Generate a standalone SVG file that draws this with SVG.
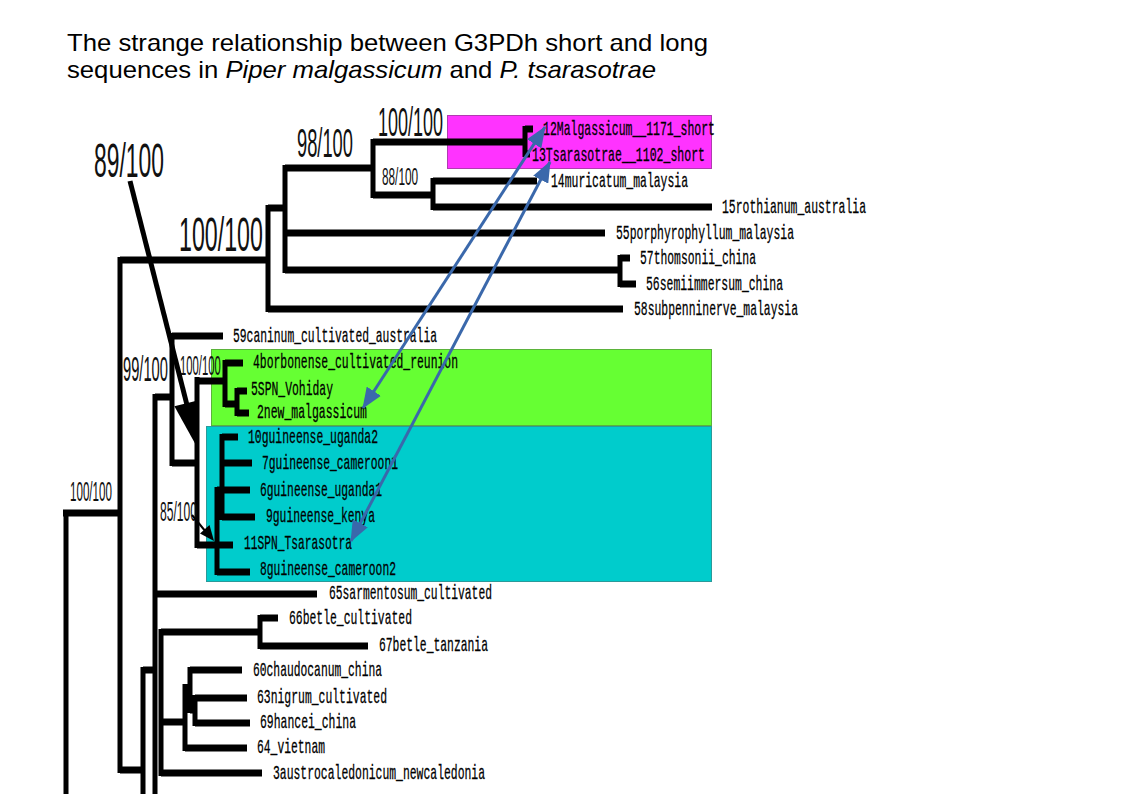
<svg xmlns="http://www.w3.org/2000/svg" width="1123" height="794" viewBox="0 0 1123 794">
<style>
.h{stroke:#000;stroke-width:7;fill:none}
.v{stroke:#000;stroke-width:5;fill:none}
.lf{font-family:"Liberation Mono",monospace;font-size:21px;fill:#000;stroke:#000;stroke-width:0.3}
.sp{font-family:"Liberation Sans",Arial,sans-serif;fill:#111}
.ttl{font-family:"Liberation Sans",Arial,sans-serif;font-size:24px;fill:#000}
.blue{stroke:#3a68ab;stroke-width:3;fill:none;marker-start:url(#ah);marker-end:url(#ah)}
</style>
<defs>
<marker id="ah" viewBox="0 0 21 17" refX="20" refY="8.5" markerWidth="21" markerHeight="17" markerUnits="userSpaceOnUse" orient="auto-start-reverse">
<path d="M0,0 L21,8.5 L0,17 z" fill="#3a68ab"/>
</marker>
</defs>
<rect width="1123" height="794" fill="#fff"/>
<g id="title">
<text class="ttl" x="67" y="51" textLength="641" lengthAdjust="spacingAndGlyphs">The strange relationship between G3PDh short and long</text>
<text class="ttl" x="67" y="78" textLength="589" lengthAdjust="spacingAndGlyphs">sequences in <tspan font-style="italic">Piper malgassicum</tspan> and <tspan font-style="italic">P. tsarasotrae</tspan></text>
</g>
<g id="boxes">
<rect id="box-pink" x="447.5" y="115.5" width="264" height="53" fill="#ff33ff" stroke="#b03cb0" stroke-width="1"/>
<rect id="box-green" x="211.5" y="349.5" width="500" height="76" fill="#66ff33" stroke="#5bb33a" stroke-width="1"/>
<rect id="box-cyan" x="206.5" y="426.5" width="505" height="155" fill="#00cccc" stroke="#2a9a9a" stroke-width="1"/>
</g>
<g id="tree">
<path class="v" d="M66,510V794 M120,257V773 M143,667V794 M155,394V794 M161,629V776 M172,333V466 M197,377V548 M225,360V407 M237,388V416 M222,434V520 M217,487V575 M268,205V312 M285,165V273 M373,139V198 M433,178V210 M525,126V157 M620,255V287 M260,615V649 M185,684V751 M190,667V713 M195,695V726"/>
<path class="h" d="M63,513H120 M120,260H268 M268,208H285 M285,168H373 M373,142H525 M525,129H533 M525,154H530 M373,195H433 M433,181H537 M433,207H712 M285,233H605 M285,270H620 M620,258H630 M620,284H636 M268,309H623 M155,397H172 M172,336H223 M172,463H197 M197,381H225 M225,363H243 M225,404H237 M237,391H247 M237,413H249 M222,437H238 M222,463H252 M217,490H250 M222,517H255 M197,545H233 M217,572H250 M155,594H317 M161,632H260 M260,618H278 M260,646H368 M161,722H185 M185,748H247 M185,690H190 M190,670H242 M190,710H195 M195,698H247 M195,723H250 M161,773H262 M120,770H143 M143,670H155"/>
</g>
<g id="support">
<text class="sp" transform="translate(94,177) scale(1,2.13)" font-size="22.9">89/100</text>
<text class="sp" transform="translate(179,251) scale(1,2.1)" font-size="23.2">100/100</text>
<text class="sp" transform="translate(297,157) scale(1,2.21)" font-size="18.3">98/100</text>
<text class="sp" transform="translate(378,136) scale(1,2.25)" font-size="18">100/100</text>
<text class="sp" transform="translate(382,185) scale(1,2.0)" font-size="11.8">88/100</text>
<text class="sp" transform="translate(123,381) scale(1,2.37)" font-size="14.7">99/100</text>
<text class="sp" transform="translate(180,375) scale(1,2.47)" font-size="11.3">100/100</text>
<text class="sp" transform="translate(70,501) scale(1,2.4)" font-size="11.6">100/100</text>
<text class="sp" transform="translate(160,521) scale(1,2.3)" font-size="12.1">85/100</text>
</g>
<g id="leaves">
<g id="leaf-12"><text class="lf" x="543" y="135" textLength="172" lengthAdjust="spacingAndGlyphs">12Malgassicum__1171_short</text></g>
<g id="leaf-13"><text class="lf" x="532" y="161" textLength="173" lengthAdjust="spacingAndGlyphs">13Tsarasotrae__1102_short</text></g>
<g id="leaf-14"><text class="lf" x="551" y="187" textLength="137" lengthAdjust="spacingAndGlyphs">14muricatum_malaysia</text></g>
<g id="leaf-15"><text class="lf" x="722" y="213" textLength="144" lengthAdjust="spacingAndGlyphs">15rothianum_australia</text></g>
<g id="leaf-55"><text class="lf" x="616" y="239" textLength="178" lengthAdjust="spacingAndGlyphs">55porphyrophyllum_malaysia</text></g>
<g id="leaf-57"><text class="lf" x="640" y="264" textLength="116" lengthAdjust="spacingAndGlyphs">57thomsonii_china</text></g>
<g id="leaf-56"><text class="lf" x="646" y="290" textLength="137" lengthAdjust="spacingAndGlyphs">56semiimmersum_china</text></g>
<g id="leaf-58"><text class="lf" x="634" y="315" textLength="164" lengthAdjust="spacingAndGlyphs">58subpenninerve_malaysia</text></g>
<g id="leaf-59"><text class="lf" x="233" y="342" textLength="204" lengthAdjust="spacingAndGlyphs">59caninum_cultivated_australia</text></g>
<g id="leaf-4"><text class="lf" x="253" y="368" textLength="205" lengthAdjust="spacingAndGlyphs">4borbonense_cultivated_reunion</text></g>
<g id="leaf-5"><text class="lf" x="251" y="395" textLength="82" lengthAdjust="spacingAndGlyphs">5SPN_Vohiday</text></g>
<g id="leaf-2"><text class="lf" x="257" y="418" textLength="110" lengthAdjust="spacingAndGlyphs">2new_malgassicum</text></g>
<g id="leaf-10"><text class="lf" x="248" y="443" textLength="130" lengthAdjust="spacingAndGlyphs">10guineense_uganda2</text></g>
<g id="leaf-7"><text class="lf" x="262" y="469" textLength="136" lengthAdjust="spacingAndGlyphs">7guineense_cameroon1</text></g>
<g id="leaf-6"><text class="lf" x="260" y="496" textLength="122" lengthAdjust="spacingAndGlyphs">6guineense_uganda1</text></g>
<g id="leaf-9"><text class="lf" x="266" y="522" textLength="109" lengthAdjust="spacingAndGlyphs">9guineense_kenya</text></g>
<g id="leaf-11"><text class="lf" x="244" y="549" textLength="108" lengthAdjust="spacingAndGlyphs">11SPN_Tsarasotra</text></g>
<g id="leaf-8"><text class="lf" x="260" y="575" textLength="136" lengthAdjust="spacingAndGlyphs">8guineense_cameroon2</text></g>
<g id="leaf-65"><text class="lf" x="329" y="599" textLength="163" lengthAdjust="spacingAndGlyphs">65sarmentosum_cultivated</text></g>
<g id="leaf-66"><text class="lf" x="289" y="624" textLength="123" lengthAdjust="spacingAndGlyphs">66betle_cultivated</text></g>
<g id="leaf-67"><text class="lf" x="379" y="651" textLength="109" lengthAdjust="spacingAndGlyphs">67betle_tanzania</text></g>
<g id="leaf-60"><text class="lf" x="253" y="676" textLength="129" lengthAdjust="spacingAndGlyphs">60chaudocanum_china</text></g>
<g id="leaf-63"><text class="lf" x="257" y="703" textLength="130" lengthAdjust="spacingAndGlyphs">63nigrum_cultivated</text></g>
<g id="leaf-69"><text class="lf" x="260" y="728" textLength="96" lengthAdjust="spacingAndGlyphs">69hancei_china</text></g>
<g id="leaf-64"><text class="lf" x="257" y="753" textLength="68" lengthAdjust="spacingAndGlyphs">64_vietnam</text></g>
<g id="leaf-3"><text class="lf" x="273" y="779" textLength="212" lengthAdjust="spacingAndGlyphs">3austrocaledonicum_newcaledonia</text></g>
</g>
<g id="connectors">
<path d="M130,181 L187,405" stroke="#000" stroke-width="5" fill="none"/>
<polygon points="197,447 197.6,400.5 174.4,406.3" fill="#000"/>
<path d="M192,515 L206,532" stroke="#000" stroke-width="2" fill="none"/>
<polygon points="214,541 209.5,525 200,533.5" fill="#000"/>
<path class="blue" d="M545,127 L363,408"/>
<path class="blue" d="M550,162 L351,541"/>
</g>
</svg>
